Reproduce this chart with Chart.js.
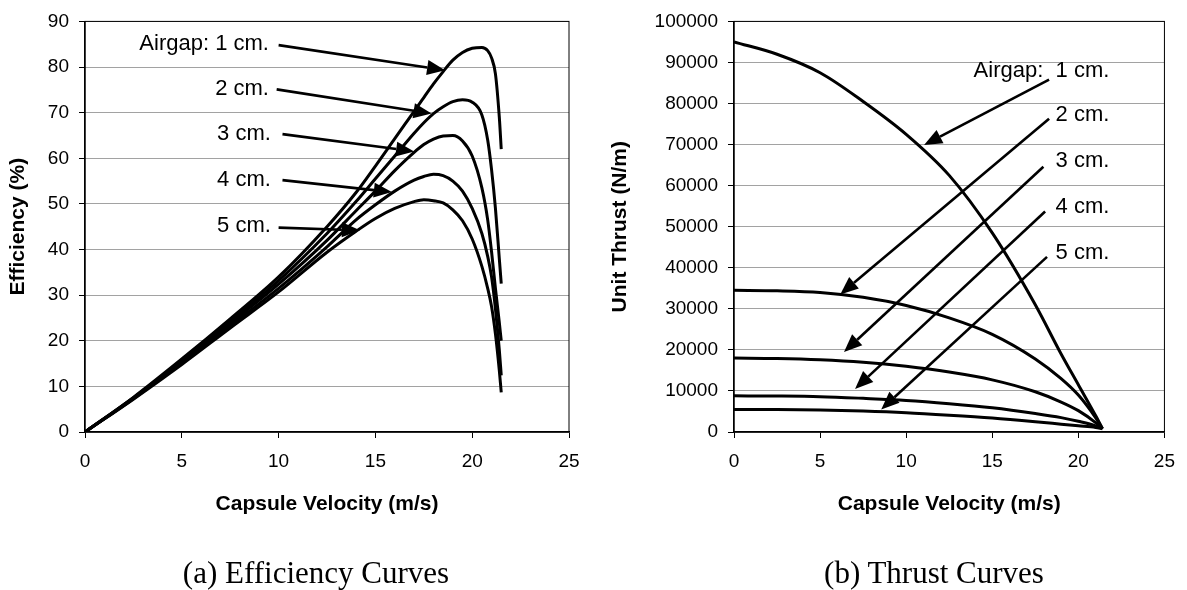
<!DOCTYPE html>
<html>
<head>
<meta charset="utf-8">
<script src="https://cdn.jsdelivr.net/npm/chart.js@4.4.1/dist/chart.umd.min.js"></script>
<style>
  html, body { margin: 0; padding: 0; background: #fff; }
  body { width: 1187px; height: 590px; position: relative; overflow: hidden; }
  canvas { position: absolute; top: 0; }
  #effChart { left: 0; }
  #thrustChart { left: 592px; }
  .caption {
    position: absolute; top: 553px; width: 400px; text-align: center;
    font-family: "Liberation Serif", "Times New Roman", serif; font-size: 31px; color: #000;
    line-height: 40px;
  }
</style>
</head>
<body>
<canvas id="effChart" width="592" height="590"></canvas>
<canvas id="thrustChart" width="595" height="590"></canvas>
<div class="caption" style="left:116px">(a) Efficiency Curves</div>
<div class="caption" style="left:734px">(b) Thrust Curves</div>
<script>
// velocity (m/s) for the efficiency curves
const effVelocity = [0, 2.5, 5, 7.5, 10, 12.5, 14, 15, 16, 17, 17.5, 18, 18.5, 19, 19.5, 20, 20.5, 20.8, 21, 21.2, 21.4, 21.5];
const eff1cm = [0, 7.6, 16, 24.8, 34, 45, 52.5, 58.3, 64.3, 70.3, 73.3, 76.3, 79, 81.5, 83.2, 84.1, 84.3, 83.6, 82, 78.5, 69, 62];
const eff2cm = [0, 7.5, 15.7, 24.3, 33.2, 43.5, 50.5, 55.5, 60.5, 65.5, 67.8, 69.8, 71.3, 72.4, 72.8, 72.3, 69.5, 64, 57.5, 49, 38, 32.5];
const eff3cm = [0, 7.4, 15.4, 23.8, 32.4, 42, 48.5, 52.8, 57.3, 61.3, 63, 64.2, 64.9, 65, 63.8, 60.5, 53.5, 46.5, 39.5, 31.5, 24, 20];
const eff4cm = [0, 7.3, 15.1, 23.3, 31.5, 40.6, 46.5, 49.8, 52.8, 55.2, 56, 56.5, 56.2, 55, 52.8, 49, 43.5, 38.5, 34, 27, 18, 12.4];
const eff5cm = [0, 7.2, 14.8, 22.8, 30.7, 39.4, 44, 46.8, 49, 50.5, 50.9, 50.7, 50.2, 48.7, 46.3, 42.3, 36.3, 31.5, 27.5, 21.5, 13.5, 8.7];

// velocity (m/s) for the thrust curves
const thrustVelocity = [0, 2.5, 5, 7.5, 10, 12.5, 15, 17.5, 19, 20, 21, 21.4];
const thrust1cm = [95000, 92000, 87500, 80500, 72500, 62500, 48500, 31000, 19000, 11500, 4000, 800];
const thrust2cm = [34500, 34400, 34000, 32800, 30800, 27800, 23800, 17800, 13000, 9000, 3500, 800];
const thrust3cm = [18000, 17900, 17600, 17000, 16000, 14600, 12700, 9800, 7300, 5200, 2300, 800];
const thrust4cm = [8800, 8750, 8600, 8200, 7700, 6900, 5900, 4500, 3500, 2600, 1500, 800];
const thrust5cm = [5500, 5480, 5350, 5100, 4700, 4100, 3400, 2500, 1900, 1500, 1100, 800];

const airgaps = ['1 cm.', '2 cm.', '3 cm.', '4 cm.', '5 cm.'];

// annotation anchors, in data units: label point, arrow start, arrow tip
const effNotes = [
  { text: 'Airgap: 1 cm.', at: [9.5, 85.1], from: [10.0, 84.8], to: [18.6, 79.3] },
  { text: '2 cm.', at: [9.5, 75.2], from: [9.9, 75.1], to: [17.9, 69.8] },
  { text: '3 cm.', at: [9.6, 65.4], from: [10.2, 65.3], to: [17.0, 61.5] },
  { text: '4 cm.', at: [9.6, 55.2], from: [10.2, 55.2], to: [15.85, 52.6] },
  { text: '5 cm.', at: [9.6, 45.1], from: [10.0, 44.8], to: [14.2, 44.2] }
];
const thrustNotes = [
  { text: 'Airgap:  1 cm.', at: [21.8, 88000], from: [18.3, 85800], to: [11.04, 69900] },
  { text: '2 cm.', at: [21.8, 77100], from: [18.3, 76300], to: [6.17, 33500] },
  { text: '3 cm.', at: [21.8, 66000], from: [17.97, 64600], to: [6.39, 19500] },
  { text: '4 cm.', at: [21.8, 54800], from: [18.07, 53700], to: [7.03, 10500] },
  { text: '5 cm.', at: [21.8, 43600], from: [18.18, 42650], to: [8.55, 5500] }
];

const sans = '"Liberation Sans", Arial, sans-serif';

const framePlugin = {
  id: 'frame',
  afterDraw(chart) {
    const { ctx, chartArea: a } = chart;
    ctx.save();
    ctx.strokeStyle = '#000';
    ctx.lineWidth = 1;
    ctx.strokeRect(a.left, a.top, a.right - a.left, a.bottom - a.top);
    ctx.restore();
  }
};

function notesPlugin(notes) {
  return {
    id: 'notes',
    afterDatasetsDraw(chart) {
      const { ctx, scales: { x, y } } = chart;
      ctx.save();
      ctx.fillStyle = '#000';
      ctx.strokeStyle = '#000';
      ctx.font = '22px ' + sans;
      ctx.textAlign = 'right';
      ctx.textBaseline = 'middle';
      notes.forEach(n => {
        ctx.fillText(n.text, x.getPixelForValue(n.at[0]), y.getPixelForValue(n.at[1]));
        const x1 = x.getPixelForValue(n.from[0]), y1 = y.getPixelForValue(n.from[1]);
        const x2 = x.getPixelForValue(n.to[0]), y2 = y.getPixelForValue(n.to[1]);
        const ang = Math.atan2(y2 - y1, x2 - x1);
        const len = 18, half = 7.5;
        const bx = x2 - len * Math.cos(ang), by = y2 - len * Math.sin(ang);
        ctx.lineWidth = 2.6;
        ctx.beginPath();
        ctx.moveTo(x1, y1);
        ctx.lineTo(bx, by);
        ctx.stroke();
        ctx.beginPath();
        ctx.moveTo(x2, y2);
        ctx.lineTo(bx + half * Math.sin(ang), by - half * Math.cos(ang));
        ctx.lineTo(bx - half * Math.sin(ang), by + half * Math.cos(ang));
        ctx.closePath();
        ctx.fill();
      });
      ctx.restore();
    }
  };
}

function makeChart(id, xs, series, yMax, yStep, yTitle, yWidth, yTitlePad, padRight, notes) {
  const datasets = series.map((vals, i) => ({
    label: airgaps[i],
    data: xs.map((v, j) => ({ x: v, y: vals[j] })),
    borderColor: '#000',
    borderWidth: 3,
    pointRadius: 0,
    showLine: true,
    fill: false,
    cubicInterpolationMode: 'monotone'
  }));

  return new Chart(document.getElementById(id), {
    type: 'scatter',
    data: { datasets },
    options: {
      responsive: false,
      animation: false,
      layout: { padding: { top: 20, right: padRight, bottom: 0, left: 0 } },
      plugins: { legend: { display: false }, tooltip: { enabled: false } },
      scales: {
        x: {
          type: 'linear', min: 0, max: 25,
          ticks: { stepSize: 5, color: '#000', padding: 12, font: { family: sans, size: 19 } },
          grid: { drawOnChartArea: false, color: '#000', tickLength: 6, tickWidth: 1 },
          border: { color: '#000', width: 1.5 },
          title: {
            display: true, text: 'Capsule Velocity (m/s)', color: '#000',
            font: { family: sans, size: 21, weight: 'bold' }, padding: { top: 0, bottom: 73 }
          },
          afterFit: s => { s.height = 158; }
        },
        y: {
          min: 0, max: yMax,
          ticks: { stepSize: yStep, color: '#000', padding: 10, font: { family: sans, size: 19 }, callback: v => String(v) },
          grid: { color: '#444', lineWidth: 1, tickLength: 6, tickColor: '#000', tickBorderDash: [] },
          border: { color: '#000', width: 1.5, dash: [1, 1] },
          title: {
            display: true, text: yTitle, color: '#000',
            font: { family: sans, size: 21, weight: 'bold' }, padding: { top: yTitlePad, bottom: 0 }
          },
          afterFit: s => { s.width = yWidth; }
        }
      }
    },
    plugins: [framePlugin, notesPlugin(notes)]
  });
}

makeChart('effChart', effVelocity, [eff1cm, eff2cm, eff3cm, eff4cm, eff5cm],
  90, 10, 'Efficiency (%)', 85, 6, 23, effNotes);
makeChart('thrustChart', thrustVelocity, [thrust1cm, thrust2cm, thrust3cm, thrust4cm, thrust5cm],
  100000, 10000, 'Unit Thrust (N/m)', 142, 16, 13, thrustNotes);
</script>
</body>
</html>
